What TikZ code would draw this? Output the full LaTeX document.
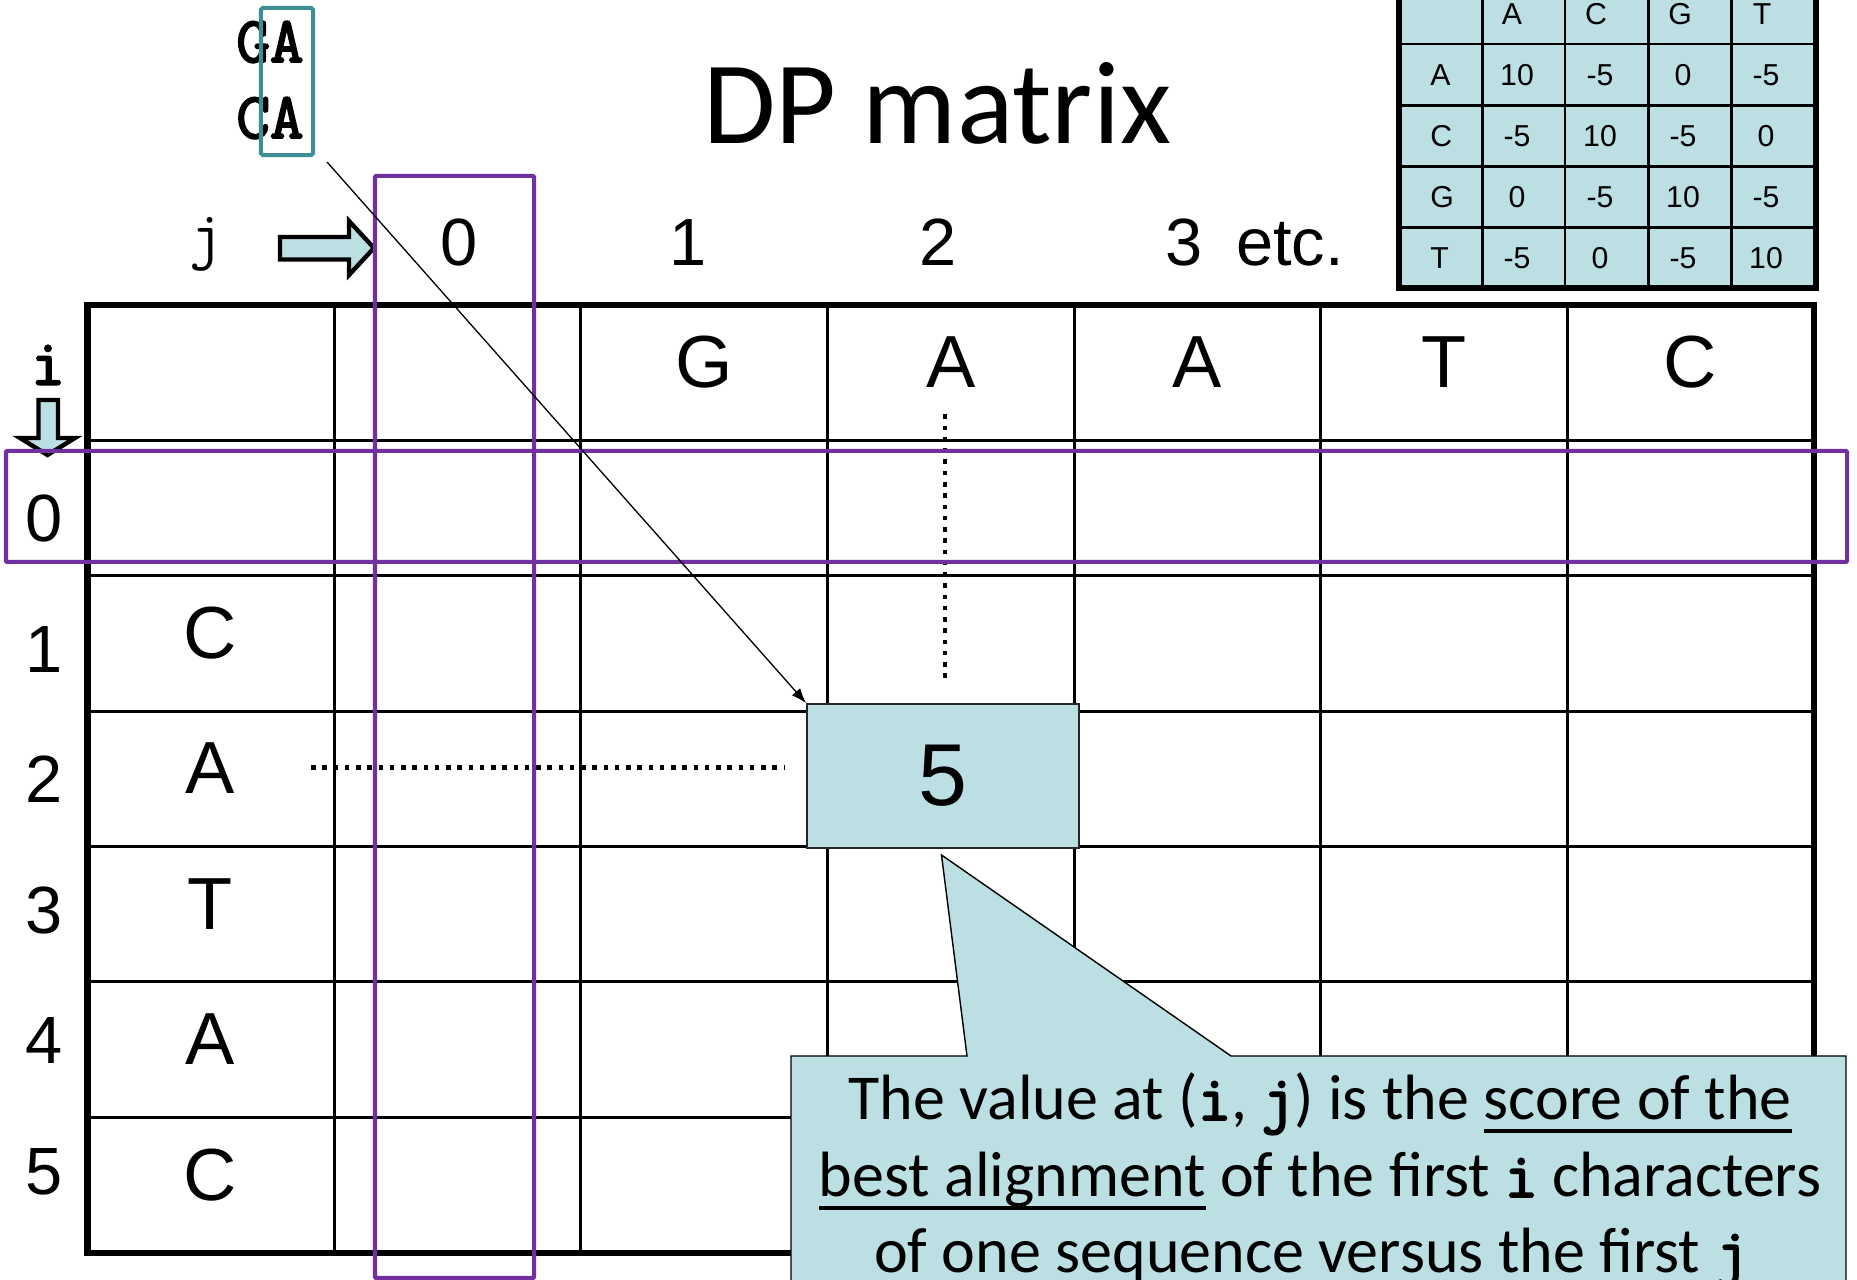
\documentclass[tikz,border=0pt]{standalone}
\usepackage{fontspec}
\setmainfont{Liberation Sans}
\setmonofont{Latin Modern Mono}[AutoFakeBold=3]
\newfontfamily\titlefont{Carlito}
\newfontfamily\notefont{Carlito}
\usepackage{tikz}
\usetikzlibrary{arrows.meta, positioning}

\definecolor{cellblue}{RGB}{187,223,227}
\definecolor{boxpurple}{RGB}{112,48,160}
\definecolor{boxteal}{RGB}{62,143,148}

\newcommand{\tb}[1]{{\ttfamily\bfseries #1}}
\newcommand{\ulx}[1]{\setbox0\hbox{#1}\rlap{\rule[-3.6pt]{\wd0}{0.95pt}}\box0\relax}

\begin{document}
\begin{tikzpicture}[x=0.01cm, y=-0.01cm,
  thin grid/.style={line width=0.85pt},
  thick grid/.style={line width=1.9pt},
  big/.style={font=\fontsize{21}{25}\selectfont, anchor=base},
  num/.style={font=\fontsize{19}{23}\selectfont, anchor=base},
  small/.style={font=\fontsize{8.6}{10}\selectfont, anchor=base},
  mono/.style={font=\ttfamily\bfseries\fontsize{18.5}{22}\selectfont},
  note/.style={font=\notefont\fontsize{18.2}{22}\selectfont, anchor=base},
  hilite/.style={draw=boxpurple, line width=1.14pt, rounded corners=0.3pt},
  blockarr/.style={draw=black, line width=1.25pt, fill=cellblue, line join=miter},
  dotline/.style={line width=1.28pt, dash pattern=on 1.28pt off 1.92pt},
  cell/.style={draw=black!85, fill=cellblue, line width=0.5pt, minimum width=2.72cm,
    minimum height=1.44cm, inner sep=0pt, font=\fontsize{25}{30}\selectfont}]
  \clip (0,0) rectangle (1857,1280);
  \fill[white] (0,0) rectangle (1857,1280);

  \node[font=\titlefont\fontsize{33.5}{40}\selectfont, anchor=base] (title) at (937,144) {DP matrix};

  % scoring table
  \fill[cellblue] (1399,-17) rectangle (1816,288);
  \foreach \x in {1482.7,1565,1648.7,1731.7}
    \draw[line width=0.77pt] (\x,-17) -- (\x,288);
  \foreach \y in {44,105.3,166.3,227.3}
    \draw[line width=0.77pt] (1399,\y) -- (1816,\y);
  \draw[thick grid] (1399,-17) rectangle (1816,288);
  \foreach \ch/\x [count=\k] in {A/1512,C/1596,G/1680,T/1762}
    \node[small] (sh\k) at (\x,25) {\ch};
  \foreach \ch/\a/\b/\c/\d [count=\r] in {A/10/-5/0/-5, C/-5/10/-5/0, G/0/-5/10/-5, T/-5/0/-5/10} {
    \node[small, anchor=base west] (sr\r) at (1418,{25+60.8*\r}) {\ch};
    \node[small] (s\r a) at (1517,{25+60.8*\r}) {\a};
    \node[small] (s\r b) at (1600,{25+60.8*\r}) {\b};
    \node[small] (s\r c) at (1683,{25+60.8*\r}) {\c};
    \node[small] (s\r d) at (1766,{25+60.8*\r}) {\d};
  }

  % DP grid
  \foreach \k in {1,...,6}
    \draw[thin grid] ({87.6+246.6*\k},305) -- ({87.6+246.6*\k},1253);
  \foreach \r in {1,...,6}
    \draw[thin grid] (87.6,{305+135.4*\r}) -- (1814,{305+135.4*\r});
  \draw[thick grid] (87.6,305) rectangle (1814,1253);

  \foreach \ch [count=\k] in {G,A,A,T,C}
    \node[big] (top\k) at ({457.5+246.6*\k},388) {\ch};
  \foreach \ch [count=\r] in {C,A,T,A,C}
    \node[big] (left\r) at (210,{523.1+135.4*\r}) {\ch};
  \foreach \n in {0,...,5}
    \node[num] (row\n) at (44,{542+130.5*\n}) {\n};
  \foreach \n/\x in {0/459,1/688,2/938,3/1184}
    \node[num] (col\n) at (\x,266) {\n};
  \node[num] (etc) at (1290,266) {etc.};

  \node[font=\ttfamily\fontsize{18.5}{22}\selectfont] (jlab) at (206,244) {j};
  \node[mono] (ilab) at (48,365) {i};
  \draw[blockarr] (280,237) -- (349,237) -- (349,221) -- (374,248) -- (349,275)
    -- (349,259.5) -- (280,259.5) -- cycle;
  \draw[blockarr] (38.5,400) -- (58,400) -- (58,438) -- (75,438) -- (47.5,455)
    -- (20,438) -- (38.5,438) -- cycle;

  % the cell (i,j)
  \node[cell] (cell) at (943,776) {5};
  \coordinate (dotL) at (311,767.5);
  \coordinate (dotT) at (945,414.5);
  \draw[dotline, shorten >=0.22cm] (dotL) -- (dotL -| cell.west);
  \draw[dotline, shorten >=0.195cm] (dotT) -- (dotT |- cell.north);

  \draw[hilite] (6,451) rectangle (1847,562);
  \draw[hilite] (375,176) rectangle (534,1278);

  % aligned pair
  \node[mono, anchor=base] (seqtop) at (270,62) {GA};
  \node[mono, anchor=base] (seqbot) at (270,138) {CA};
  \node[draw=boxteal, line width=1.14pt, rounded corners=0.5pt, minimum width=0.52cm,
    minimum height=1.47cm, inner sep=0pt] (pair) at (287,81.5) {};
  \coordinate (arrstart) at (327,162);
  \draw[-{Latex[length=0.15cm, width=0.11cm]}, line width=0.37pt] (arrstart) -- (cell.north west);

  % callout
  \draw[fill=cellblue, line width=0.4pt] (791,1056) -- (967,1056) -- (941.5,855) -- (1231,1056)
    -- (1846,1056) -- (1846,1300) -- (791,1300) -- cycle;
  \node[note] (note1) at (1320,1120) {The value at (\tb{i}, \tb{j}) is the \ulx{score of the}};
  \node[note] (note2) at (1320,1197) {\ulx{best alignment} of the first \tb{i} characters};
  \node[note] (note3) at (1311,1273) {of one sequence versus the first \tb{j}};
\end{tikzpicture}
\end{document}
